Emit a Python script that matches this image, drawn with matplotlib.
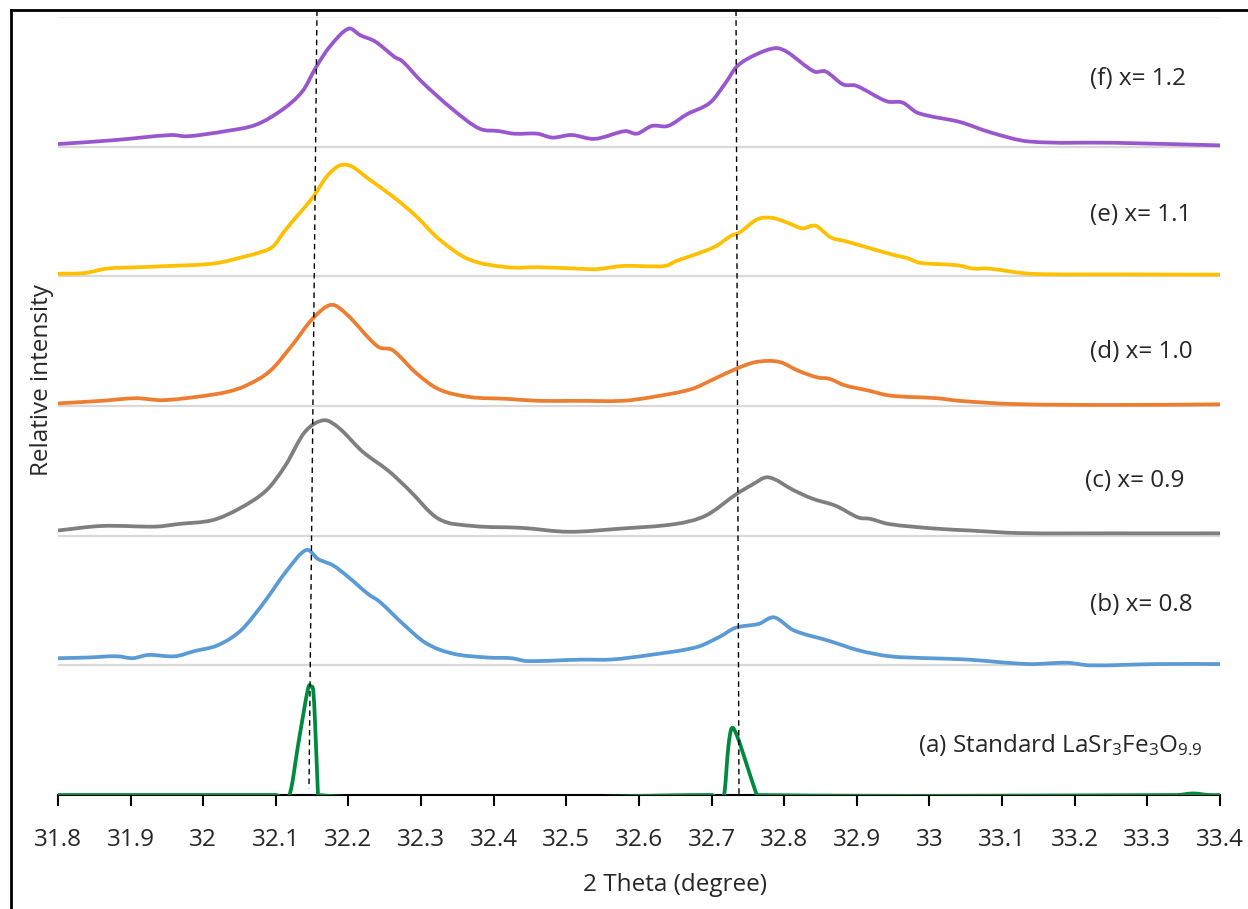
import numpy as np
import matplotlib.pyplot as plt
from matplotlib.lines import Line2D
from matplotlib.path import Path
from matplotlib.patches import PathPatch

plt.rcParams['font.family'] = ['Open Sans', 'DejaVu Sans']
plt.rcParams['mathtext.default'] = 'regular'

fontSize = 17.5
lineWidth = 2.7
textColor = '#262626'

# 2 Theta positions and relative intensity (above each trace's own baseline)
xF = [31.8, 31.877, 31.956, 31.978, 32.031, 32.073, 32.110, 32.137, 32.155, 32.174, 32.200,
      32.216, 32.237, 32.264, 32.274, 32.301, 32.343, 32.380, 32.407, 32.428, 32.460, 32.481,
      32.507, 32.539, 32.581, 32.597, 32.618, 32.640, 32.666, 32.698, 32.719, 32.735, 32.761,
      32.788, 32.804, 32.841, 32.857, 32.881, 32.899, 32.941, 32.963, 32.984, 33.042, 33.084,
      33.137, 33.254, 33.4]
yF = [0.02, 0.05, 0.09, 0.08, 0.12, 0.17, 0.29, 0.43, 0.61, 0.77, 0.91,
      0.86, 0.81, 0.69, 0.66, 0.50, 0.29, 0.14, 0.12, 0.10, 0.10, 0.07,
      0.09, 0.06, 0.12, 0.10, 0.16, 0.16, 0.25, 0.34, 0.49, 0.62, 0.71,
      0.76, 0.73, 0.58, 0.58, 0.48, 0.47, 0.35, 0.34, 0.26, 0.19, 0.11,
      0.04, 0.03, 0.01]

xE = [31.8, 31.836, 31.868, 31.911, 31.953, 31.996, 32.022, 32.048, 32.075, 32.096, 32.112,
      32.133, 32.151, 32.170, 32.186, 32.197, 32.207, 32.228, 32.260, 32.292, 32.324, 32.366,
      32.419, 32.461, 32.514, 32.541, 32.578, 32.636, 32.652, 32.673, 32.705, 32.726, 32.739,
      32.763, 32.784, 32.806, 32.825, 32.843, 32.864, 32.885, 32.922, 32.954, 32.970, 32.986,
      33.039, 33.060, 33.081, 33.139, 33.256, 33.4]
yE = [0.02, 0.025, 0.06, 0.07, 0.08, 0.09, 0.105, 0.14, 0.18, 0.23, 0.35,
      0.49, 0.61, 0.77, 0.85, 0.86, 0.84, 0.75, 0.62, 0.47, 0.29, 0.13,
      0.07, 0.07, 0.06, 0.055, 0.08, 0.08, 0.12, 0.16, 0.23, 0.31, 0.34,
      0.44, 0.45, 0.41, 0.37, 0.39, 0.30, 0.27, 0.21, 0.16, 0.14, 0.105,
      0.085, 0.06, 0.06, 0.02, 0.015, 0.013]

xD = [31.8, 31.860, 31.907, 31.944, 31.997, 32.034, 32.060, 32.092, 32.124, 32.150, 32.176,
      32.197, 32.240, 32.261, 32.292, 32.324, 32.366, 32.419, 32.461, 32.514, 32.577, 32.619,
      32.672, 32.704, 32.735, 32.762, 32.793, 32.820, 32.846, 32.862, 32.883, 32.915, 32.946,
      33.010, 33.041, 33.115, 33.252, 33.4]
yD = [0.02, 0.04, 0.06, 0.045, 0.075, 0.11, 0.16, 0.27, 0.48, 0.67, 0.78,
      0.71, 0.46, 0.43, 0.26, 0.13, 0.07, 0.055, 0.04, 0.04, 0.04, 0.07,
      0.13, 0.21, 0.29, 0.34, 0.34, 0.27, 0.22, 0.21, 0.16, 0.12, 0.08,
      0.06, 0.04, 0.015, 0.008, 0.013]

xC = [31.8, 31.861, 31.935, 31.966, 32.013, 32.050, 32.087, 32.113, 32.140, 32.166, 32.187,
      32.219, 32.255, 32.282, 32.324, 32.371, 32.439, 32.503, 32.576, 32.650, 32.692, 32.734,
      32.755, 32.778, 32.813, 32.839, 32.871, 32.902, 32.918, 32.944, 33.007, 33.055, 33.123,
      33.249, 33.4]
yC = [0.04, 0.075, 0.07, 0.09, 0.12, 0.21, 0.35, 0.54, 0.80, 0.89, 0.83,
      0.65, 0.50, 0.36, 0.13, 0.075, 0.06, 0.03, 0.055, 0.09, 0.155, 0.32,
      0.39, 0.45, 0.35, 0.285, 0.23, 0.14, 0.13, 0.09, 0.055, 0.04, 0.02,
      0.018, 0.018]

xB = [31.8, 31.839, 31.881, 31.903, 31.924, 31.961, 31.988, 32.020, 32.052, 32.083, 32.115,
      32.142, 32.158, 32.179, 32.200, 32.227, 32.243, 32.275, 32.307, 32.344, 32.392, 32.424,
      32.446, 32.520, 32.562, 32.615, 32.679, 32.711, 32.733, 32.765, 32.786, 32.813, 32.861,
      32.903, 32.945, 32.998, 33.051, 33.136, 33.189, 33.221, 33.316, 33.4]
yB = [0.055, 0.06, 0.07, 0.055, 0.08, 0.07, 0.11, 0.155, 0.27, 0.48, 0.73,
      0.89, 0.82, 0.77, 0.68, 0.55, 0.49, 0.32, 0.17, 0.09, 0.06, 0.055,
      0.033, 0.044, 0.045, 0.08, 0.14, 0.22, 0.29, 0.32, 0.37, 0.27, 0.19,
      0.115, 0.07, 0.055, 0.045, 0.01, 0.02, 0.0, 0.01, 0.01]

xA = [31.8, 32.10, 32.1186, 32.1316, 32.1447, 32.1484, 32.1516, 32.154, 32.1562, 32.1584, 32.70,
      32.717, 32.723, 32.7275, 32.7345, 32.748, 32.7597, 32.763, 33.34, 33.363, 33.385, 33.4]
yA = [0.0, 0.0, 0.0, 0.42, 0.83, 0.835, 0.80, 0.55, 0.25, 0.0, 0.0,
      0.0, 0.37, 0.514, 0.463, 0.24, 0.04, 0.0, 0.0, 0.012, 0.0, 0.0]

seriesX = [xA, xB, xC, xD, xE, xF]
seriesY = [yA, yB, yC, yD, yE, yF]
colors = ['#008A3E', '#5B9BD5', '#7F7F7F', '#ED7D31', '#FFC000', '#9A57CD']
labels = ['(a) Standard LaSr$_3$Fe$_3$O$_{9.9}$', '(b) x= 0.8', '(c) x= 0.9',
          '(d) x= 1.0', '(e) x= 1.1', '(f) x= 1.2']
labelX = [32.984, 33.221, 33.214, 33.221, 33.221, 33.221]
labelY = [0.386, 1.465, 2.42, 3.42, 4.47, 5.52]

xTicks = [31.8, 31.9, 32.0, 32.1, 32.2, 32.3, 32.4, 32.5, 32.6, 32.7, 32.8, 32.9,
          33.0, 33.1, 33.2, 33.3, 33.4]
xTickLabels = ['31.8', '31.9', '32', '32.1', '32.2', '32.3', '32.4', '32.5', '32.6',
               '32.7', '32.8', '32.9', '33', '33.1', '33.2', '33.3', '33.4']


def smoothPath(x, y):
    # smoothed line like the spreadsheet's: cubic segments through every point
    x = np.asarray(x, float)
    y = np.asarray(y, float)
    n = len(x)
    m = np.zeros(n)
    m[1:-1] = (y[2:] - y[:-2]) / (x[2:] - x[:-2])
    m[0] = (y[1] - y[0]) / (x[1] - x[0])
    m[-1] = (y[-1] - y[-2]) / (x[-1] - x[-2])
    verts = [(x[0], y[0])]
    codes = [Path.MOVETO]
    for i in range(n - 1):
        h = (x[i + 1] - x[i]) / 3.0
        verts += [(x[i] + h, y[i] + h * m[i]),
                  (x[i + 1] - h, y[i + 1] - h * m[i + 1]),
                  (x[i + 1], y[i + 1])]
        codes += [Path.CURVE4] * 3
    return Path(verts, codes)


fig = plt.figure(figsize=(12.48, 9.09), dpi=100)
ax = fig.add_axes([0.04647, 0.12541, 0.93109, 0.85589])

# gray baselines
for k in range(1, 7):
    ax.axhline(k, color='#D9D9D9' if k < 6 else '#EFEFEF', lw=1.6, zorder=1)

for i in range(6):
    path = smoothPath(seriesX[i], np.array(seriesY[i]) + i)
    ax.add_patch(PathPatch(path, facecolor='none', edgecolor=colors[i], lw=lineWidth,
                           joinstyle='round', capstyle='butt', zorder=3 + i))
    ax.text(labelX[i], labelY[i], labels[i], fontsize=fontSize, color=textColor,
            ha='left', va='center')

# reference peak positions (dashed, slightly slanted as drawn)
ax.plot([32.1566, 32.1456], [6.05, 0.05], color='black', lw=1, ls=(0, (4, 3)),
        clip_on=False, zorder=10)
ax.plot([32.7336, 32.7377], [6.05, 0.0], color='black', lw=1, ls=(0, (4, 3)),
        clip_on=False, zorder=10)

ax.set_xlim(31.8, 33.4)
ax.set_ylim(0, 6)
ax.set_xticks(xTicks)
ax.set_xticklabels(xTickLabels, fontsize=fontSize, color=textColor)
ax.set_yticks([])
ax.tick_params(axis='x', direction='out', length=8, width=1.5, pad=16)
for s in ['left', 'right', 'top']:
    ax.spines[s].set_visible(False)
ax.spines['bottom'].set_linewidth(1.5)
ax.spines['bottom'].set_zorder(2)

ax.set_xlabel('2 Theta (degree)', fontsize=fontSize, color=textColor, va='center')
ax.xaxis.set_label_coords(0.531, -0.1157)
ax.set_ylabel('Relative intensity', fontsize=fontSize, color=textColor, va='center')
ax.yaxis.set_label_coords(-0.0138, 0.533)

# outer frame of the figure
fig.add_artist(Line2D([0.0088, 0.0088], [0.989, 0.0], color='black', lw=2,
                      transform=fig.transFigure))
fig.add_artist(Line2D([0.0088, 1.0], [0.989, 0.989], color='black', lw=2,
                      transform=fig.transFigure))

plt.savefig('out.png')
